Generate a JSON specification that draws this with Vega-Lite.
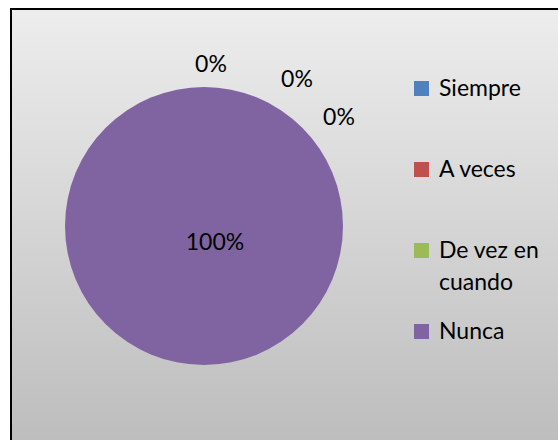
{
  "$schema": "https://vega.github.io/schema/vega-lite/v6.json",
  "width": 600,
  "height": 434,
  "padding": {"left": 11, "top": 9, "right": 0, "bottom": 0},
  "autosize": {"type": "none"},
  "background": "white",
  "data": {
    "values": [
      {"categoria": "Siempre", "valor": 0, "etiqueta": "0%"},
      {"categoria": "A veces", "valor": 0, "etiqueta": "0%"},
      {"categoria": "De vez en cuando", "valor": 0, "etiqueta": "0%"},
      {"categoria": "Nunca", "valor": 100, "etiqueta": "100%"}
    ]
  },
  "layer": [
    {
      "data": {"values": [{"marco": 1}]},
      "mark": {
        "type": "rect",
        "fill": {
          "gradient": "linear",
          "x1": 0, "y1": 0, "x2": 0, "y2": 1,
          "stops": [
            {"offset": 0, "color": "#ededed"},
            {"offset": 1, "color": "#bdbdbd"}
          ]
        },
        "stroke": "#000000",
        "strokeWidth": 2
      },
      "encoding": {
        "x": {"value": 0},
        "x2": {"value": "width"},
        "y": {"value": 0},
        "y2": {"value": "height"}
      }
    },
    {
      "mark": {"type": "arc", "outerRadius": 139, "xOffset": -107},
      "encoding": {
        "theta": {"field": "valor", "type": "quantitative", "stack": true},
        "color": {
          "field": "categoria",
          "type": "nominal",
          "sort": ["Siempre", "A veces", "De vez en cuando", "Nunca"],
          "scale": {
            "domain": ["Siempre", "A veces", "De vez en cuando", "Nunca"],
            "range": ["#4F81BD", "#C0504D", "#9BBB59", "#8064A2"]
          },
          "legend": {
            "title": null,
            "orient": "none",
            "legendX": 399,
            "legendY": 68,
            "symbolType": "square",
            "symbolSize": 225,
            "symbolStrokeWidth": 0,
            "labelFont": "Lato",
            "labelFontSize": 23,
            "labelColor": "#000000",
            "labelOffset": 6,
            "labelLimit": 200,
            "rowPadding": 25,
            "padding": 0,
            "labelExpr": "datum.label === 'De vez en cuando' ? ['De vez en', 'cuando'] : [datum.label, '']"
          }
        }
      }
    },
    {
      "transform": [{"filter": "datum.categoria === 'Nunca'"}],
      "mark": {"type": "text", "radius": 17, "xOffset": -107, "dx": 11, "font": "Lato", "fontSize": 23, "align": "center", "baseline": "middle", "color": "#000000"},
      "encoding": {"theta": {"field": "valor", "type": "quantitative", "stack": true}, "text": {"field": "etiqueta"}}
    },
    {
      "transform": [{"filter": "datum.categoria === 'Siempre'"}],
      "mark": {"type": "text", "radius": 150, "xOffset": -107, "dx": 7, "dy": -11, "font": "Lato", "fontSize": 23, "align": "center", "baseline": "middle", "color": "#000000"},
      "encoding": {"theta": {"field": "valor", "type": "quantitative", "stack": true}, "text": {"field": "etiqueta"}}
    },
    {
      "transform": [{"filter": "datum.categoria === 'A veces'"}],
      "mark": {"type": "text", "radius": 150, "xOffset": -107, "dx": 93, "dy": 4, "font": "Lato", "fontSize": 23, "align": "center", "baseline": "middle", "color": "#000000"},
      "encoding": {"theta": {"field": "valor", "type": "quantitative", "stack": true}, "text": {"field": "etiqueta"}}
    },
    {
      "transform": [{"filter": "datum.categoria === 'De vez en cuando'"}],
      "mark": {"type": "text", "radius": 150, "xOffset": -107, "dx": 135, "dy": 42, "font": "Lato", "fontSize": 23, "align": "center", "baseline": "middle", "color": "#000000"},
      "encoding": {"theta": {"field": "valor", "type": "quantitative", "stack": true}, "text": {"field": "etiqueta"}}
    }
  ],
  "config": {
    "view": {"stroke": null},
    "style": {"guide-label": {"lineHeight": 32}}
  }
}
